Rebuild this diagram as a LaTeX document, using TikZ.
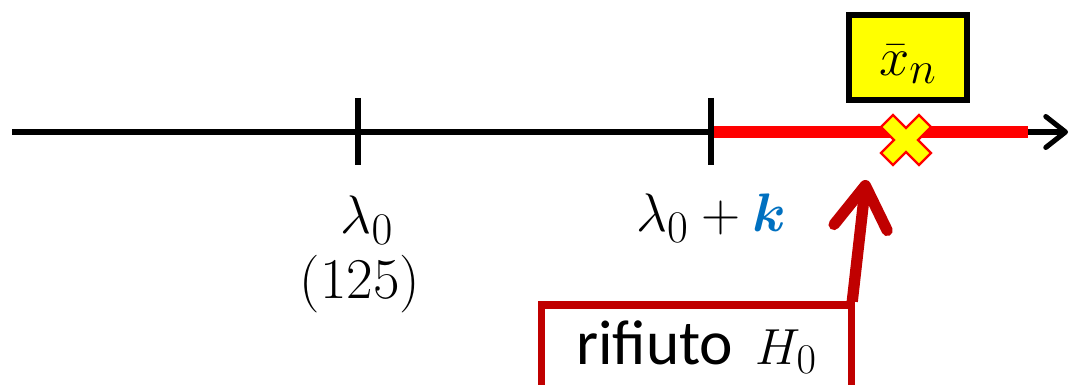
\documentclass[tikz,border=0pt]{standalone}
\usepackage{amsmath}
\usepackage{fontspec}
\newfontfamily\calib{Carlito}
\usetikzlibrary{arrows.meta}
\definecolor{xred}{HTML}{FF0000}
\definecolor{dred}{HTML}{C00000}
\definecolor{xblue}{HTML}{0070C0}
\definecolor{xyellow}{HTML}{FFFF00}
\newcommand{\bigtxt}[2][1.55]{\scalebox{#1}{\Huge #2}}
\tikzset{
  axisline/.style={line width=3.6pt, black, -{Straight Barb[round,length=14pt,width=22pt]}},
  redline/.style={line width=9.2pt, xred},
  tickmark/.style={line width=4pt, black},
  lab/.style={inner sep=0pt},
  ybox/.style={draw=black, fill=xyellow, line width=4.3pt, minimum width=2.95cm, minimum height=2.125cm, inner sep=0pt},
  rbox/.style={draw=dred, fill=white, line width=5pt, minimum width=7.75cm, minimum height=2.1cm, inner sep=0pt, font=\fontsize{45}{52}\selectfont\calib},
  rarrow/.style={draw=dred, line width=8pt, -{Straight Barb[round,length=30pt,width=38pt]}},
  crossmark/.style={fill=xyellow, draw=xred, line width=1.6pt, line join=miter},
}
\begin{document}
\begin{tikzpicture}[x=0.025cm, y=-0.025cm]
\clip (0,0) rectangle (1070,385);
% axis
\coordinate (L) at (12,132);
\coordinate (R) at (1068,132);
\coordinate (t1) at (358,132);
\coordinate (t2) at (711,132);
\coordinate (rend) at (1028,132);
\draw[axisline] (L) -- (R);
\draw[redline] (t2) -- (rend);
\draw[tickmark] (358,98) -- (358,165);
\draw[tickmark] (711,98) -- (711,165);
% labels
\node[lab] (l0) at (367,220) {\bigtxt{$\lambda_0$}};
\node[lab] (l125) at (360,284) {\bigtxt[1.65]{$(125)$}};
\node[lab] (lk) at (711,218) {\bigtxt{$\lambda_0+\textcolor{xblue}{\boldsymbol{k}}$}};
% sample mean box
\node[ybox] (xn) at (908,57.5) {\raisebox{-5pt}[\height][\depth]{\bigtxt{$\bar{x}_n$}}};
% cross
\begin{scope}[shift={(906,140)}]
\path[crossmark] (0,-12) -- (13,-25) -- (25,-13) -- (12,0) -- (25,13) -- (13,25)
  -- (0,12) -- (-13,25) -- (-25,13) -- (-12,0) -- (-25,-13) -- (-13,-25) -- cycle;
\end{scope}
% rejection box
\node[rbox, anchor=north] (rej) at (696.5,301.5) {rifiuto\hspace{0.35em}\bigtxt[1.45]{$H_0$}};
\coordinate (tip) at (866,180);
\draw[rarrow] ([xshift=-2pt]rej.north east) -- (tip);
\end{tikzpicture}
\end{document}
